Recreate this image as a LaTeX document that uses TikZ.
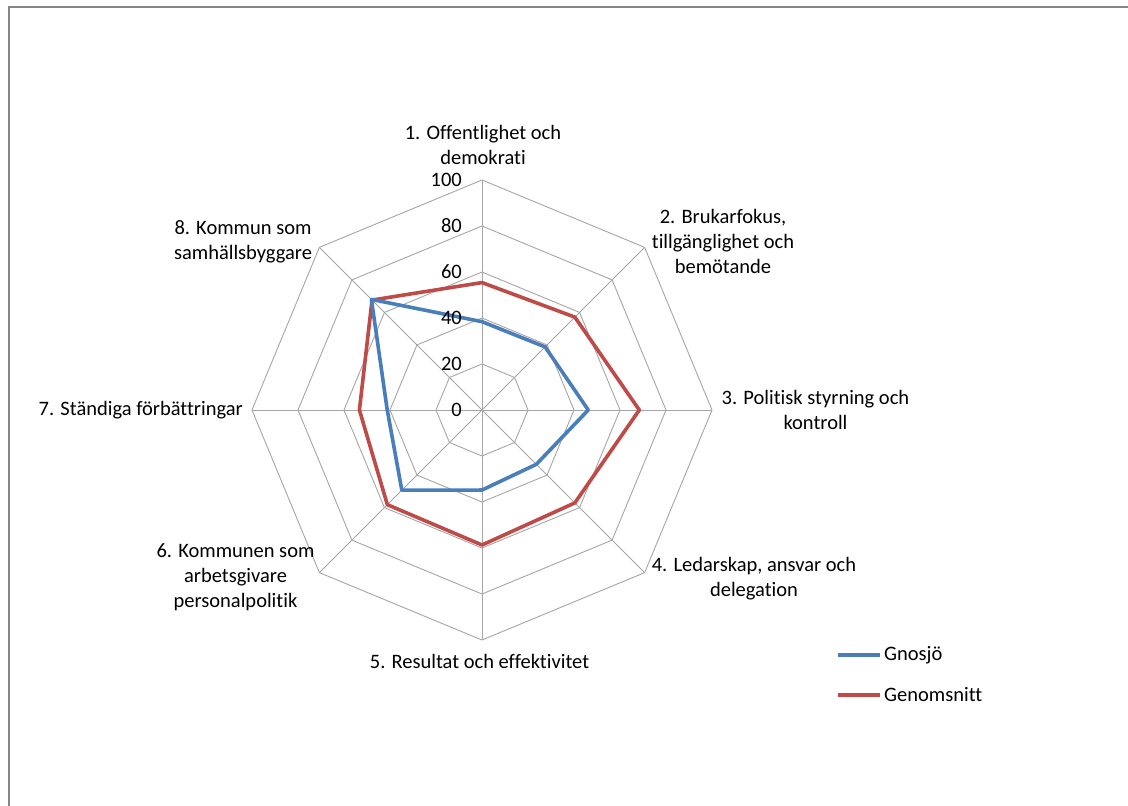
\documentclass[tikz,border=0pt]{standalone}
\usepackage{fontspec}
\setmainfont{Carlito}[Ligatures={NoCommon}]
\definecolor{gnblue}{HTML}{4A7EBB}
\definecolor{gnred}{HTML}{BE4B48}
\definecolor{gridgray}{HTML}{A6A6A6}
\definecolor{framegray}{HTML}{868686}
\begin{document}
\begin{tikzpicture}[x=1pt,y=1pt,
  gridline/.style={draw=gridgray, line width=0.9pt},
  blueseries/.style={draw=gnblue, line width=3.6pt, line join=round},
  redseries/.style={draw=gnred, line width=3.6pt, line join=round},
  lbl/.style={font=\fontsize{20.5}{25}\selectfont, align=center, inner sep=0pt, text=black},
  ticklbl/.style={font=\fontsize{20.5}{22}\selectfont, anchor=east, inner sep=0pt, text=black},
  legline/.style={line width=3.6pt}]
\useasboundingbox (0,0) rectangle (1128,-806);
\fill[white] (0,0) rectangle (1128,-806);
\draw[framegray, line width=2pt] (8.5,-820) -- (8.5,-6.5) -- (1140,-6.5);
\begin{scope}[shift={(482,-410)}]
  \coordinate (C) at (0,0);
  % grid rings
  \foreach \l in {1,...,5}{
    \draw[gridline] (90:{46*\l}) \foreach \k in {1,...,7}{ -- ({90-45*\k}:{46*\l}) } -- cycle;
  }
  % spokes
  \foreach \k in {0,...,7}{
    \coordinate (s\k) at ({90-45*\k}:230);
    \draw[gridline] (C) -- (s\k);
  }
  % series coordinates
  \foreach \v [count=\i from 0] in {38.4,38.8,46.2,33.4,34.8,49.3,41.2,68}{
    \coordinate (b\i) at ({90-45*\i}:{2.3*\v});
  }
  \foreach \v [count=\i from 0] in {55.4,57.1,68.4,57.1,58.7,58.2,53.3,67.6}{
    \coordinate (r\i) at ({90-45*\i}:{2.3*\v});
  }
\end{scope}
\draw[redseries] (r0) -- (r1) -- (r2) -- (r3) -- (r4) -- (r5) -- (r6) -- (r7) -- cycle;
\draw[blueseries] (b0) -- (b1) -- (b2) -- (b3) -- (b4) -- (b5) -- (b6) -- (b7) -- cycle;
% tick labels
\foreach \t [count=\i from 0] in {0,20,40,60,80,100}{
  \node[ticklbl] (t\i) at (462,{-410+46*\i}) {\t};
}
% axis labels
\node[lbl] (a1) at (483,-144.5) {1. Offentlighet och\\demokrati};
\node[lbl] (a2) at (723,-241) {2. Brukarfokus,\\tillgänglighet och\\bemötande};
\node[lbl] (a3) at (815.5,-409.5) {3. Politisk styrning och\\kontroll};
\node[lbl] (a4) at (754,-578.5) {4. Ledarskap, ansvar och\\delegation};
\node[lbl] (a5) at (479.5,-661) {5. Resultat och effektivitet};
\node[lbl] (a6) at (235.5,-577.5) {6. Kommunen som\\arbetsgivare\\personalpolitik};
\node[lbl, anchor=east] (a7) at (243,-410) {7. Ständiga förbättringar};
\node[lbl] (a8) at (243,-241.5) {8. Kommun som\\samhällsbyggare};
% legend
\coordinate (lb1) at (838,-655);
\coordinate (lb2) at (880,-655);
\coordinate (lr1) at (838,-695);
\coordinate (lr2) at (880,-695);
\draw[legline, gnblue] (lb1) -- (lb2);
\draw[legline, gnred] (lr1) -- (lr2);
\node[lbl, anchor=west] (g1) at (884,-655) {Gnosjö};
\node[lbl, anchor=west] (g2) at (884,-695) {Genomsnitt};
\end{tikzpicture}
\end{document}
